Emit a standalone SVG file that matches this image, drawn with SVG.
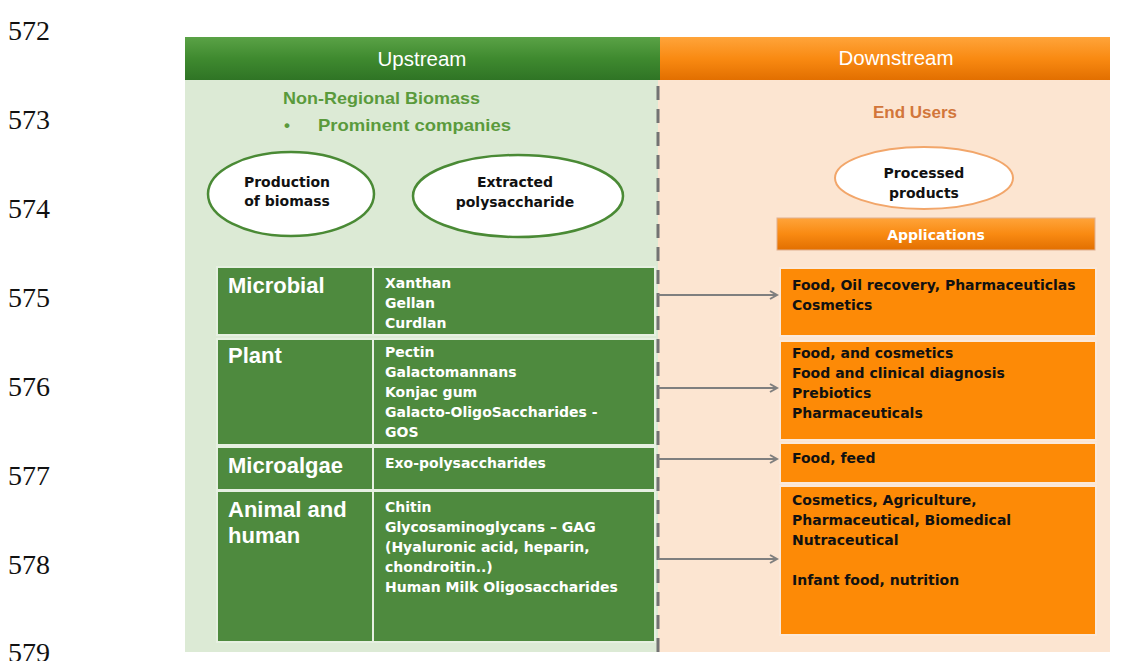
<svg xmlns="http://www.w3.org/2000/svg" width="1121" height="661" viewBox="0 0 1121 661">
<style>
.ln{font-family:"Liberation Serif",serif;font-size:28px;fill:#111}
.hd{font-family:"Liberation Sans",Arial,sans-serif;font-size:20.5px;fill:#fff}
.ttl{font-family:"Liberation Sans",Arial,sans-serif;font-size:17px;font-weight:bold}
.el{font-family:"DejaVu Sans",sans-serif;font-size:14px;font-weight:bold;fill:#111;text-anchor:middle}
.cat{font-family:"Liberation Sans",Arial,sans-serif;font-size:22px;font-weight:bold;fill:#fff}
.it{font-family:"DejaVu Sans",sans-serif;font-size:14px;font-weight:bold;fill:#fff}
.ap{font-family:"DejaVu Sans",sans-serif;font-size:14px;font-weight:bold;fill:#111}
.cell{fill:#4e8a3e;stroke:#e6f0e1;stroke-width:2}
.obox{fill:#fd8a06;stroke:#fbe9da;stroke-width:2}
.arr{stroke:#7f7f7f;stroke-width:2;fill:none;marker-end:url(#ah)}
</style>
<defs>
<linearGradient id="gg" x1="0" y1="0" x2="0" y2="1">
<stop offset="0" stop-color="#5aa246"/><stop offset="0.5" stop-color="#3f8a2f"/><stop offset="1" stop-color="#2f7425"/>
</linearGradient>
<linearGradient id="og" x1="0" y1="0" x2="0" y2="1">
<stop offset="0" stop-color="#ffa43a"/><stop offset="0.5" stop-color="#f98a12"/><stop offset="1" stop-color="#e26f00"/>
</linearGradient>
<marker id="ah" markerWidth="10" markerHeight="10" refX="8" refY="5" orient="auto" markerUnits="userSpaceOnUse">
<path d="M1,1 L8,5 L1,9" fill="none" stroke="#7f7f7f" stroke-width="2"/>
</marker>
</defs>
<rect width="1121" height="661" fill="#fff"/>
<g id="line-numbers">
<text class="ln" x="8" y="40">572</text>
<text class="ln" x="8" y="129">573</text>
<text class="ln" x="8" y="218">574</text>
<text class="ln" x="8" y="307">575</text>
<text class="ln" x="8" y="396">576</text>
<text class="ln" x="8" y="485">577</text>
<text class="ln" x="8" y="574">578</text>
<text class="ln" x="8" y="662">579</text>
</g>
<g id="upstream-panel">
<rect x="185" y="80" width="473" height="572" fill="#dcead5"/>
<rect x="185" y="37" width="475" height="43" fill="url(#gg)"/>
<text class="hd" x="422" y="66" text-anchor="middle">Upstream</text>
<text class="ttl" x="283" y="104" fill="#5a9a3c" textLength="197" lengthAdjust="spacingAndGlyphs">Non-Regional Biomass</text>
<text class="ttl" x="284" y="131" fill="#5a9a3c">•</text>
<text class="ttl" x="318" y="131" fill="#5a9a3c" textLength="193" lengthAdjust="spacingAndGlyphs">Prominent companies</text>
</g>
<g id="downstream-panel">
<rect x="658" y="80" width="452" height="572" fill="#fce5d1"/>
<rect x="660" y="37" width="450" height="43" fill="url(#og)"/>
<text class="hd" x="896" y="65" text-anchor="middle">Downstream</text>
<text class="ttl" x="915" y="118" fill="#d2763a" text-anchor="middle">End Users</text>
</g>
<g id="divider">
<line x1="658" y1="86" x2="658" y2="661" stroke="#737373" stroke-width="3" stroke-dasharray="14,9"/>
</g>
<g id="production-of-biomass">
<ellipse cx="291" cy="194" rx="83" ry="42" fill="#fff" stroke="#4a8a35" stroke-width="2.5"/>
<text class="el" x="287" y="187">Production</text>
<text class="el" x="287" y="206">of biomass</text>
</g>
<g id="extracted-polysaccharide">
<ellipse cx="518" cy="196" rx="105" ry="41" fill="#fff" stroke="#4a8a35" stroke-width="2.5"/>
<text class="el" x="515" y="187">Extracted</text>
<text class="el" x="515" y="207">polysaccharide</text>
</g>
<g id="processed-products">
<ellipse cx="924" cy="178" rx="89" ry="31" fill="#fff" stroke="#f2a66a" stroke-width="2"/>
<text class="el" x="924" y="178">Processed</text>
<text class="el" x="924" y="198">products</text>
</g>
<g id="applications">
<rect x="777" y="218" width="318" height="32" fill="url(#og)" stroke="#e0b090" stroke-width="1"/>
<text class="it" x="936" y="240" text-anchor="middle">Applications</text>
</g>
<g id="microbial">
<rect class="cell" x="217" y="267" width="156" height="68"/>
<rect class="cell" x="373" y="267" width="282" height="68"/>
<text class="cat" x="228" y="293">Microbial</text>
<text class="it" x="385" y="288">Xanthan</text>
<text class="it" x="385" y="308">Gellan</text>
<text class="it" x="385" y="328">Curdlan</text>
</g>
<g id="plant">
<rect class="cell" x="217" y="339" width="156" height="106"/>
<rect class="cell" x="373" y="339" width="282" height="106"/>
<text class="cat" x="228" y="363">Plant</text>
<text class="it" x="385" y="357">Pectin</text>
<text class="it" x="385" y="377">Galactomannans</text>
<text class="it" x="385" y="397">Konjac gum</text>
<text class="it" x="385" y="417">Galacto-OligoSaccharides -</text>
<text class="it" x="385" y="437">GOS</text>
</g>
<g id="microalgae">
<rect class="cell" x="217" y="447" width="156" height="43"/>
<rect class="cell" x="373" y="447" width="282" height="43"/>
<text class="cat" x="228" y="473">Microalgae</text>
<text class="it" x="385" y="468">Exo-polysaccharides</text>
</g>
<g id="animal-human">
<rect class="cell" x="217" y="491" width="156" height="151"/>
<rect class="cell" x="373" y="491" width="282" height="151"/>
<text class="cat" x="228" y="517">Animal and</text>
<text class="cat" x="228" y="543">human</text>
<text class="it" x="385" y="512">Chitin</text>
<text class="it" x="385" y="532">Glycosaminoglycans – GAG</text>
<text class="it" x="385" y="552">(Hyaluronic acid, heparin,</text>
<text class="it" x="385" y="572">chondroitin..)</text>
<text class="it" x="385" y="592">Human  Milk Oligosaccharides</text>
</g>
<g id="app-microbial">
<rect class="obox" x="780" y="268" width="316" height="68"/>
<text class="ap" x="792" y="290">Food, Oil recovery, Pharmaceuticlas</text>
<text class="ap" x="792" y="310">Cosmetics</text>
</g>
<g id="app-plant">
<rect class="obox" x="780" y="341" width="316" height="99"/>
<text class="ap" x="792" y="358">Food, and cosmetics</text>
<text class="ap" x="792" y="378">Food and clinical diagnosis</text>
<text class="ap" x="792" y="398">Prebiotics</text>
<text class="ap" x="792" y="418">Pharmaceuticals</text>
</g>
<g id="app-microalgae">
<rect class="obox" x="780" y="443" width="316" height="40"/>
<text class="ap" x="792" y="463">Food, feed</text>
</g>
<g id="app-animal">
<rect class="obox" x="780" y="486" width="316" height="149"/>
<text class="ap" x="792" y="505">Cosmetics, Agriculture,</text>
<text class="ap" x="792" y="525">Pharmaceutical, Biomedical</text>
<text class="ap" x="792" y="545">Nutraceutical</text>
<text class="ap" x="792" y="585">Infant food, nutrition</text>
</g>
<g id="connectors">
<line class="arr" x1="658" y1="295" x2="777" y2="295"/>
<line class="arr" x1="658" y1="388" x2="777" y2="388"/>
<line class="arr" x1="658" y1="459" x2="777" y2="459"/>
<line class="arr" x1="658" y1="559" x2="777" y2="559"/>
</g>
</svg>
